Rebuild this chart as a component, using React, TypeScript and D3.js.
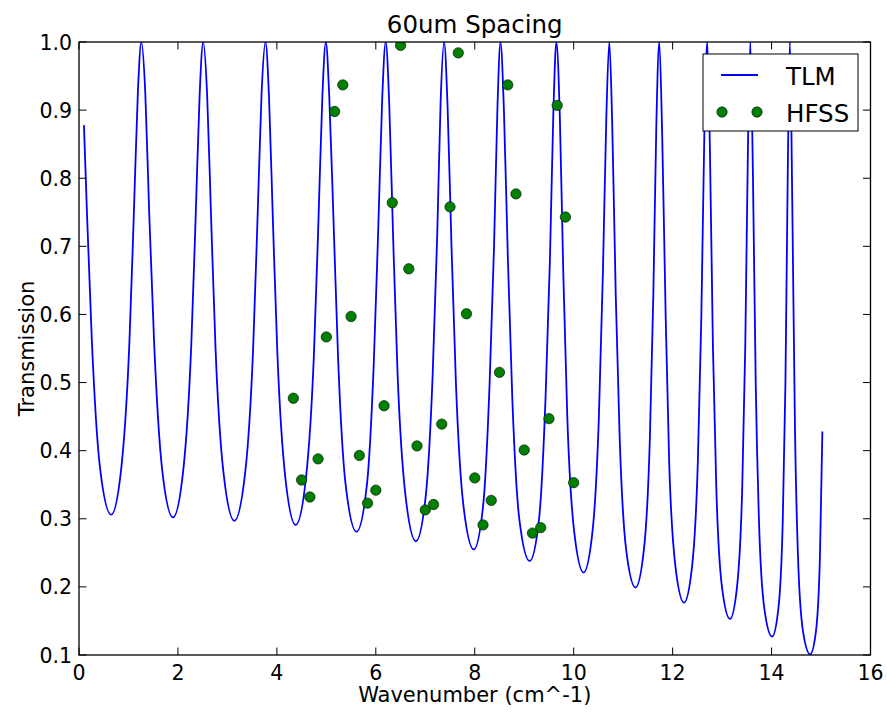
import React from 'react';
import * as d3 from 'd3';

// ---- data ----
const xTicks = [0, 2, 4, 6, 8, 10, 12, 14, 16];
const yTicks = [0.1, 0.2, 0.3, 0.4, 0.5, 0.6, 0.7, 0.8, 0.9, 1.0];

const hfssX = [
  4.333, 4.5, 4.667, 4.833, 5.0, 5.167, 5.333, 5.5, 5.667, 5.833,
  6.0, 6.167, 6.333, 6.5, 6.667, 6.833, 7.0, 7.167, 7.333, 7.5,
  7.667, 7.833, 8.0, 8.167, 8.333, 8.5, 8.667, 8.833, 9.0, 9.167,
  9.333, 9.5, 9.667, 9.833, 10.0,
];
const hfssY = [
  0.477, 0.357, 0.332, 0.388, 0.567, 0.898, 0.937, 0.597, 0.393, 0.323,
  0.342, 0.466, 0.764, 0.995, 0.667, 0.407, 0.313, 0.321, 0.439, 0.758,
  0.984, 0.601, 0.36, 0.291, 0.327, 0.515, 0.937, 0.777, 0.401, 0.279,
  0.287, 0.447, 0.907, 0.743, 0.353,
];

const tlmPoints: [number, number][] = [
  [0.10, 0.878],
  [0.16, 0.751], [0.26, 0.561], [0.42, 0.378], [0.65, 0.306],
  [0.86, 0.378], [1.02, 0.561], [1.11, 0.751], [1.19, 0.926], [1.26, 1.0],
  [1.34, 0.925], [1.42, 0.747], [1.52, 0.556], [1.68, 0.373], [1.90, 0.302],
  [2.11, 0.373], [2.27, 0.556], [2.36, 0.747], [2.44, 0.925], [2.51, 1.0],
  [2.59, 0.923], [2.67, 0.743], [2.76, 0.550], [2.92, 0.368], [3.14, 0.297],
  [3.36, 0.368], [3.52, 0.550], [3.61, 0.743], [3.69, 0.923], [3.77, 1.0],
  [3.84, 0.921], [3.92, 0.737], [4.01, 0.543], [4.17, 0.361], [4.38, 0.291],
  [4.59, 0.361], [4.75, 0.543], [4.84, 0.737], [4.92, 0.921], [4.99, 1.0],
  [5.06, 0.918], [5.15, 0.727], [5.24, 0.531], [5.39, 0.350], [5.61, 0.281],
  [5.82, 0.350], [5.96, 0.531], [6.05, 0.727], [6.13, 0.918], [6.20, 1.0],
  [6.27, 0.912], [6.35, 0.713], [6.44, 0.513], [6.60, 0.334], [6.81, 0.267],
  [7.01, 0.334], [7.15, 0.513], [7.24, 0.713], [7.31, 0.912], [7.38, 1.0],
  [7.45, 0.907], [7.53, 0.700], [7.62, 0.498], [7.77, 0.320], [7.98, 0.255],
  [8.17, 0.320], [8.30, 0.498], [8.39, 0.700], [8.46, 0.907], [8.52, 1.0],
  [8.59, 0.899], [8.67, 0.681], [8.76, 0.475], [8.90, 0.300], [9.11, 0.238],
  [9.30, 0.300], [9.43, 0.475], [9.52, 0.681], [9.59, 0.899], [9.65, 1.0],
  [9.72, 0.890], [9.79, 0.660], [9.87, 0.451], [10.01, 0.281], [10.20, 0.221],
  [10.38, 0.281], [10.51, 0.451], [10.59, 0.660], [10.66, 0.890], [10.72, 1.0],
  [10.78, 0.876], [10.85, 0.629], [10.93, 0.418], [11.06, 0.255], [11.25, 0.199],
  [11.42, 0.255], [11.54, 0.418], [11.61, 0.629], [11.67, 0.876], [11.73, 1.0],
  [11.79, 0.860], [11.86, 0.595], [11.93, 0.384], [12.06, 0.228], [12.23, 0.177],
  [12.39, 0.228], [12.51, 0.384], [12.58, 0.595], [12.64, 0.860], [12.70, 1.0],
  [12.755, 0.837], [12.815, 0.552], [12.884, 0.343], [12.999, 0.199], [13.16, 0.153],
  [13.30, 0.199], [13.406, 0.343], [13.468, 0.552], [13.521, 0.837], [13.57, 1.0],
  [13.623, 0.806], [13.68, 0.498], [13.746, 0.296], [13.856, 0.167], [14.01, 0.127],
  [14.136, 0.167], [14.226, 0.296], [14.28, 0.498], [14.327, 0.806], [14.37, 1.0],
  [14.419, 0.762], [14.473, 0.434], [14.534, 0.245], [14.637, 0.134], [14.78, 0.101],
  [14.896, 0.134], [14.978, 0.245], [15.027, 0.428],
];

const title = '60um Spacing';
const xLabel = 'Wavenumber (cm^-1)';
const yLabel = 'Transmission';
const legendLabels = ['TLM', 'HFSS'];

// ---- layout ----
const W = 887;
const H = 713;
const L = 79;
const R = 870.5;
const T = 42;
const B = 655;
const FONT = "'DejaVu Sans', sans-serif";
const TICK = 7.5;
const MR = 5.2;

export default function App() {
  const x = d3.scaleLinear().domain([0, 16]).range([L, R]);
  const y = d3.scaleLinear().domain([0.1, 1.0]).range([B, T]);
  const line = d3
    .line<[number, number]>()
    .x((d) => x(d[0]))
    .y((d) => y(d[1]))
    .curve(d3.curveMonotoneX);
  const hfss = hfssX.map((v, i) => [v, hfssY[i]] as [number, number]);

  const lg = { x: 703, y: 54, w: 155, h: 77 };

  return (
    <div style={{ position: 'absolute', left: 0, top: 0 }}>
      <svg width={W} height={H} style={{ display: 'block', background: '#fff' }}>
        <defs>
          <clipPath id="plotclip">
            <rect x={L} y={T} width={R - L} height={B - T} />
          </clipPath>
        </defs>
        <rect x={0} y={0} width={W} height={H} fill="#fff" />
        <g clipPath="url(#plotclip)">
          <path d={line(tlmPoints) || ''} fill="none" stroke="#0000ff" strokeWidth={1.8} />
          {hfss.map((d, i) => (
            <circle key={i} cx={x(d[0])} cy={y(d[1])} r={MR} fill="#008000" stroke="#000" strokeWidth={0.6} />
          ))}
        </g>
        {/* spines */}
        <rect x={L} y={T} width={R - L} height={B - T} fill="none" stroke="#000" strokeWidth={1.3} />
        {/* x ticks */}
        {xTicks.map((t) => (
          <g key={'x' + t}>
            <line x1={x(t)} x2={x(t)} y1={B} y2={B - TICK} stroke="#000" strokeWidth={1} />
            <line x1={x(t)} x2={x(t)} y1={T} y2={T + TICK} stroke="#000" strokeWidth={1} />
            <text x={x(t)} y={680} textAnchor="middle" fontFamily={FONT} fontSize={20.5} fill="#000">
              {t}
            </text>
          </g>
        ))}
        {/* y ticks */}
        {yTicks.map((t) => (
          <g key={'y' + t}>
            <line x1={L} x2={L + TICK} y1={y(t)} y2={y(t)} stroke="#000" strokeWidth={1} />
            <line x1={R} x2={R - TICK} y1={y(t)} y2={y(t)} stroke="#000" strokeWidth={1} />
            <text x={72} y={y(t) + 7.5} textAnchor="end" fontFamily={FONT} fontSize={20.5} fill="#000">
              {t.toFixed(1)}
            </text>
          </g>
        ))}
        {/* title and labels */}
        <text x={(L + R) / 2} y={33} textAnchor="middle" fontFamily={FONT} fontSize={24.5} fill="#000">
          {title}
        </text>
        <text x={(L + R) / 2} y={702} textAnchor="middle" fontFamily={FONT} fontSize={21} fill="#000">
          {xLabel}
        </text>
        <text
          transform={`translate(34, ${(T + B) / 2}) rotate(-90)`}
          textAnchor="middle"
          fontFamily={FONT}
          fontSize={21}
          fill="#000"
        >
          {yLabel}
        </text>
        {/* legend */}
        <g>
          <rect x={lg.x} y={lg.y} width={lg.w} height={lg.h} fill="#fff" stroke="#000" strokeWidth={1} />
          <line x1={721} x2={758} y1={75} y2={75} stroke="#0000ff" strokeWidth={1.8} />
          <text x={786} y={85} fontFamily={FONT} fontSize={24.5} fill="#000">
            {legendLabels[0]}
          </text>
          <circle cx={722} cy={112} r={MR} fill="#008000" stroke="#000" strokeWidth={0.6} />
          <circle cx={757} cy={112} r={MR} fill="#008000" stroke="#000" strokeWidth={0.6} />
          <text x={786} y={122} fontFamily={FONT} fontSize={24.5} fill="#000">
            {legendLabels[1]}
          </text>
        </g>
      </svg>
    </div>
  );
}
